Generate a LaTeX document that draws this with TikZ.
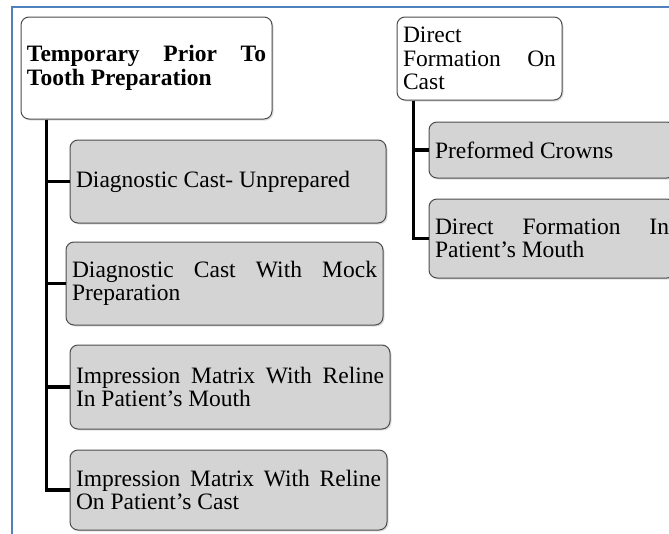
\documentclass[tikz,border=0pt]{standalone}
\usepackage{fontspec}
\setmainfont{Liberation Serif}
\usepackage{xcolor}
\usetikzlibrary{shadows}
\hyphenpenalty=10000
\exhyphenpenalty=10000

\begin{document}
\begin{tikzpicture}[x=1pt, y=-1pt,
		box/.style={draw={black!70}, line width=1pt, rounded corners=8pt, inner xsep=6pt, inner ysep=3pt, align=justify,
			font={\fontsize{23.5}{23.5}\selectfont}, drop shadow={opacity=0.25, shadow xshift=1.5pt, shadow yshift=-1.5pt}},
		headbox/.style={box, fill=white},
		itembox/.style={box, fill={black!17}},
		link/.style={-, draw, line width={1.15mm}, color=black}]
			\definecolor{FRAME}{RGB}{79, 129, 189}
			\useasboundingbox (0, 0) rectangle (669, 533);
			\clip (0, 0) rectangle (669, 533);
			\draw[line width={2pt}, color=FRAME] (690, 7) -- (12, 7) -- (12, 560);
			\node[headbox, text width=239pt, minimum height=102pt] (tp) at (146.5, 68.0) {\bfseries Temporary Prior To\linebreak Tooth Preparation};
			\node[itembox, text width=304pt, minimum height=83pt] (dcu) at (228.0, 181.5) {Diagnostic Cast- Unprepared};
			\node[itembox, text width=305pt, minimum height=83pt] (dcm) at (224.5, 283.5) {Diagnostic Cast With Mock\linebreak Preparation};
			\node[itembox, text width=308pt, minimum height=84pt] (imm) at (230.0, 387.0) {Impression Matrix With Reline\linebreak In Patient’s Mouth};
			\node[itembox, text width=305pt, minimum height=80pt] (imc) at (228.5, 490.0) {Impression Matrix With Reline\linebreak On Patient’s Cast};
			\node[headbox, text width=153pt, minimum height=83pt] (dfc) at (479.5, 58.5) {Direct\linebreak Formation On\linebreak Cast};
			\node[itembox, text width=234pt, minimum height=56pt] (pfc) at (552.0, 150.0) {Preformed Crowns};
			\node[itembox, text width=234pt, minimum height=79pt] (dfm) at (552.0, 238.5) {Direct Formation In\linebreak Patient’s Mouth};
			\draw[link] ([xshift=26pt]tp.south west) |- (dcu.west);
			\draw[link] ([xshift=26pt]tp.south west) |- (dcm.west);
			\draw[link] ([xshift=26pt]tp.south west) |- (imm.west);
			\draw[link] ([xshift=26pt]tp.south west) |- (imc.west);
			\draw[link] ([xshift=17pt]dfc.south west) |- (pfc.west);
			\draw[link] ([xshift=17pt]dfc.south west) |- (dfm.west);
		\end{tikzpicture}
\end{document}
